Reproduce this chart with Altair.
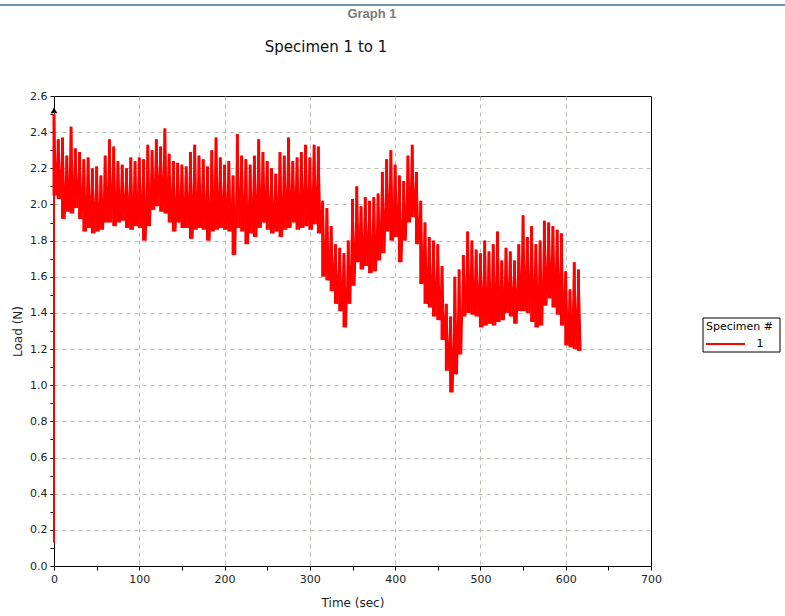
import altair as alt
import pandas as pd

# Load trace for specimen 1, summarised in 5-second bins:
# for every bin the peak (high) and trough (low) of the signal.
BIN_SEC = 5.0
load_high = [
    2.50, 2.36, 2.37, 2.27, 2.43, 2.31, 2.29, 2.25, 2.26, 2.20,
    2.21, 2.16, 2.27, 2.36, 2.32, 2.24, 2.22, 2.20, 2.26, 2.24,
    2.26, 2.25, 2.33, 2.30, 2.36, 2.32, 2.42, 2.28, 2.24, 2.23,
    2.22, 2.21, 2.29, 2.33, 2.27, 2.25, 2.21, 2.30, 2.37, 2.26,
    2.22, 2.24, 2.16, 2.39, 2.27, 2.25, 2.22, 2.27, 2.36, 2.29,
    2.24, 2.20, 2.17, 2.29, 2.27, 2.37, 2.24, 2.26, 2.29, 2.33,
    2.26, 2.33, 2.32, 2.02, 1.98, 1.88, 1.78, 1.76, 1.73, 1.80,
    2.03, 2.10, 1.99, 2.04, 2.02, 2.04, 2.06, 2.18, 2.25, 2.30,
    2.22, 2.16, 2.13, 2.27, 2.33, 2.18, 2.02, 1.90, 1.82, 1.80,
    1.78, 1.66, 1.45, 1.38, 1.60, 1.64, 1.72, 1.85, 1.80, 1.75,
    1.73, 1.80, 1.74, 1.78, 1.85, 1.69, 1.76, 1.74, 1.69, 1.78,
    1.94, 1.82, 1.88, 1.78, 1.80, 1.91, 1.90, 1.88, 1.86, 1.84,
    1.63, 1.53, 1.68, 1.64,
]
load_low = [
    2.05, 2.03, 1.92, 1.96, 1.95, 1.98, 1.92, 1.85, 1.87, 1.84,
    1.85, 1.86, 1.90, 1.90, 1.88, 1.90, 1.91, 1.87, 1.86, 1.88,
    1.87, 1.80, 1.88, 1.97, 1.99, 1.96, 1.95, 1.90, 1.85, 1.90,
    1.87, 1.87, 1.81, 1.86, 1.87, 1.86, 1.80, 1.85, 1.86, 1.87,
    1.86, 1.85, 1.72, 1.87, 1.85, 1.78, 1.84, 1.82, 1.87, 1.90,
    1.86, 1.84, 1.85, 1.82, 1.86, 1.87, 1.90, 1.86, 1.87, 1.88,
    1.86, 1.89, 1.84, 1.60, 1.58, 1.52, 1.45, 1.41, 1.32, 1.45,
    1.55, 1.68, 1.64, 1.66, 1.62, 1.63, 1.69, 1.73, 1.85, 1.80,
    1.82, 1.68, 1.80, 1.90, 1.93, 1.78, 1.56, 1.45, 1.43, 1.38,
    1.36, 1.25, 1.08, 0.96, 1.06, 1.17, 1.38, 1.40, 1.39, 1.38,
    1.32, 1.33, 1.34, 1.33, 1.35, 1.36, 1.40, 1.38, 1.34, 1.41,
    1.41, 1.40, 1.35, 1.32, 1.33, 1.44, 1.48, 1.43, 1.39, 1.33,
    1.22, 1.21, 1.20, 1.19,
]
start_load = 0.13          # reading at the moment the test starts
marker_time = [0.0]        # cursor arrow on the first peak
marker_load = [2.52]

# zig-zag trace: peak at the start of each bin, trough half a bin later
rows = [{"seq": 0, "time": 0.0, "load": start_load}]
for i, (hi, lo) in enumerate(zip(load_high, load_low)):
    t0 = i * BIN_SEC
    rows.append({"seq": 2 * i + 1, "time": t0, "load": hi})
    rows.append({"seq": 2 * i + 2, "time": t0 + BIN_SEC / 2, "load": lo})
trace = pd.DataFrame(rows)

# full swing of every bin, drawn as a vertical stroke
band = pd.DataFrame({
    "time": [i * BIN_SEC for i in range(len(load_high))],
    "low": load_low,
    "high": load_high,
})
marker = pd.DataFrame({"time": marker_time, "load": marker_load})

FONT = "DejaVu Sans"
GRID = "#bdbdb3"
RED = "#ff0000"

x_ticks = list(range(0, 701, 50))
y_ticks = [round(i * 0.1, 1) for i in range(0, 27)]

x_axis = alt.Axis(
    values=x_ticks, tickCount=40,
    labelExpr="datum.value % 100 == 0 ? datum.label : ''",
    title="Time (sec)",
    titleX=298.5, titleY=36, titleBaseline="middle", titleAlign="center",
    titleFont=FONT, titleFontSize=12, titleFontWeight="normal", titleColor="#222",
    labelFont=FONT, labelFontSize=11, labelColor="#222", labelPadding=3,
    labelFlush=False, labelOverlap=False,
    tickSize=4, tickColor="black", domainColor="black",
    grid=True, gridColor=GRID, gridDash=[4, 4],
    gridOpacity={"condition": {"test": "datum.value % 100 == 0 && datum.value > 0 && datum.value < 700",
                               "value": 1}, "value": 0},
)
y_axis = alt.Axis(
    values=y_ticks, tickCount=60,
    labelExpr="round(datum.value * 10) % 2 == 0 ? format(datum.value, '.1f') : ''",
    title="Load (N)",
    titleX=-37, titleY=235, titleBaseline="middle", titleAlign="center", titleAngle=-90,
    titleFont=FONT, titleFontSize=12, titleFontWeight="normal", titleColor="#222",
    labelFont=FONT, labelFontSize=11, labelColor="#222", labelPadding=3,
    labelFlush=False, labelOverlap=False,
    tickSize=4, tickColor="black", domainColor="black",
    grid=True, gridColor=GRID, gridDash=[4, 4],
    gridOpacity={"condition": {"test": "round(datum.value * 10) % 2 == 0 && datum.value > 0.05 && datum.value < 2.55",
                               "value": 1}, "value": 0},
)

x_scale = alt.Scale(domain=[0, 700], nice=False)
y_scale = alt.Scale(domain=[0, 2.6], nice=False)

swing = alt.Chart(band).mark_rule(color=RED, strokeWidth=3.0).encode(
    x=alt.X("time:Q", scale=x_scale, axis=x_axis),
    y=alt.Y("low:Q", scale=y_scale, axis=y_axis),
    y2="high:Q",
)

line = alt.Chart(trace).mark_line(color=RED, strokeWidth=2.0, interpolate="linear").encode(
    x=alt.X("time:Q", scale=x_scale),
    y=alt.Y("load:Q", scale=y_scale),
    order="seq:Q",
)

cursor = alt.Chart(marker).mark_point(
    shape="triangle-up", filled=True, color="black", size=45, opacity=1
).encode(x="time:Q", y="load:Q")

one = pd.DataFrame({"k": [0]})
header_rule = alt.Chart(one).mark_rule(color="#41708f", strokeWidth=1.5).encode(
    x=alt.value(-54), x2=alt.value(731), y=alt.value(-91)
)
header = alt.Chart(one).mark_text(
    text="Graph 1", font="Liberation Sans Narrow, Liberation Sans", fontSize=13,
    fontWeight="bold", color="#7a7a7a", align="center", baseline="middle",
).encode(x=alt.value(318), y=alt.value(-82))
subtitle = alt.Chart(one).mark_text(
    text="Specimen 1 to 1", font=FONT, fontSize=15, color="#111",
    align="center", baseline="middle",
).encode(x=alt.value(272), y=alt.value(-49))

# legend box for the single specimen
legend_box = alt.Chart(one).mark_rect(fill="white", stroke="black", strokeWidth=1).encode(
    x=alt.value(649), x2=alt.value(726), y=alt.value(222), y2=alt.value(256)
)
legend_title = alt.Chart(one).mark_text(
    text="Specimen #", font=FONT, fontSize=11, color="black", align="left", baseline="middle",
).encode(x=alt.value(652), y=alt.value(231))
legend_swatch = alt.Chart(one).mark_rule(color=RED, strokeWidth=2).encode(
    x=alt.value(652), x2=alt.value(691), y=alt.value(248)
)
legend_label = alt.Chart(one).mark_text(
    text="1", font=FONT, fontSize=11, color="black", align="center", baseline="middle",
).encode(x=alt.value(706), y=alt.value(248))

chart = alt.layer(
    swing, line, cursor, header_rule, header, subtitle,
    legend_box, legend_title, legend_swatch, legend_label,
).properties(
    width=597,
    height=470,
    autosize=alt.AutoSizeParams(type="none"),
    padding={"left": 54, "top": 96, "right": 134, "bottom": 50},
    background="white",
).configure_view(stroke="black", strokeWidth=1)

chart.save("out.html", embed_options={"renderer": "svg", "actions": False})
